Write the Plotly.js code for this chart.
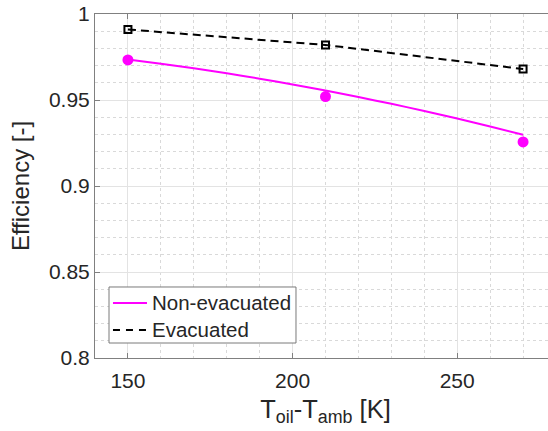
<!DOCTYPE html>
<html>
<head>
<meta charset="utf-8">
<script src="https://cdn.plot.ly/plotly-3.0.1.min.js"></script>
<style>
html, body { margin: 0; padding: 0; overflow: hidden; background: #fff; }
#chart { width: 570px; height: 431px; }
</style>
</head>
<body>
<div id="chart"></div>
<script>
// Measured points
const tempDiff = [150, 210, 270];
const nonEvacuated = [0.9733, 0.952, 0.9256];
const evacuated = [0.991, 0.982, 0.968];
// Fitted curve for non-evacuated collector
const fitTemp = [150, 160, 170, 180, 190, 200, 210, 220, 230, 240, 250, 260, 270];
const fitNonEvacuated = [0.9736, 0.9711, 0.9684, 0.9655, 0.9624, 0.9590, 0.9555, 0.9517, 0.9478, 0.9436, 0.9392, 0.9346, 0.9298];
// Legend labels
const seriesNames = ['Non-evacuated', 'Evacuated'];
// Tick labels
const xTickVals = [150, 200, 250];
const xTickText = ['150', '200', '250'];
const yTickVals = [0.8, 0.85, 0.9, 0.95, 1];
const yTickText = ['0.8', '0.85', '0.9', '0.95', '1'];

const FONT = '"Liberation Sans", Arial, Helvetica, sans-serif';
const TXT = '#262626';
const AXC = '#808080';
const PINK = '#ff00ff';

const traces = [
  { x: fitTemp, y: fitNonEvacuated, mode: 'lines', name: seriesNames[0],
    line: { color: PINK, width: 2, shape: 'spline', smoothing: 0.6 } },
  { x: tempDiff, y: evacuated, mode: 'lines', name: seriesNames[1],
    line: { color: '#000000', width: 2, dash: '8px,5px' } },
  { x: tempDiff, y: nonEvacuated, mode: 'markers', showlegend: false,
    marker: { symbol: 'circle', size: 11, color: PINK } },
  { x: tempDiff, y: evacuated, mode: 'markers', showlegend: false,
    marker: { symbol: 'square-open', size: 7, color: '#000000', line: { width: 2, color: '#000000' } } }
];

// Legend drawn as a box with line samples (paper coordinates of the plot area)
const legendBox = { x0: 0.0304, x1: 0.436, y0: 0.0436, y1: 0.2064 };
const rowY = [0.1599, 0.0814];
const sampleX = [0.039, 0.1128];
const textX = 0.1193;

const shapes = [
  { type: 'rect', xref: 'paper', yref: 'paper', x0: legendBox.x0, x1: legendBox.x1, y0: legendBox.y0, y1: legendBox.y1,
    line: { color: '#7a7a7a', width: 1 }, fillcolor: '#ffffff', layer: 'above' },
  { type: 'line', xref: 'paper', yref: 'paper', x0: sampleX[0], x1: sampleX[1], y0: rowY[0], y1: rowY[0],
    line: { color: PINK, width: 2 }, layer: 'above' },
  { type: 'line', xref: 'paper', yref: 'paper', x0: sampleX[0], x1: sampleX[1], y0: rowY[1], y1: rowY[1],
    line: { color: '#000000', width: 2, dash: '7px,6px' }, layer: 'above' }
];
const annotations = seriesNames.map((name, i) => ({
  xref: 'paper', yref: 'paper', x: textX, y: rowY[i], xanchor: 'left', yanchor: 'middle',
  text: name, showarrow: false, font: { family: FONT, size: 20.5, color: TXT }
}));

const layout = {
  width: 570, height: 431,
  margin: { l: 95, r: 14, t: 14, b: 73 },
  paper_bgcolor: '#ffffff', plot_bgcolor: '#ffffff',
  font: { family: FONT, color: TXT, size: 21 },
  showlegend: false,
  shapes: shapes,
  annotations: annotations,
  xaxis: {
    range: [140, 280], tickvals: xTickVals, ticktext: xTickText,
    ticks: 'inside', ticklen: 5, tickcolor: AXC, tickwidth: 1,
    showline: true, linecolor: AXC, linewidth: 1, mirror: 'ticks',
    showgrid: true, gridcolor: '#e3e3e3', gridwidth: 1,
    minor: { dtick: 10, tick0: 140, showgrid: true, gridcolor: '#d9d9d9', griddash: 'dot', ticks: '' },
    zeroline: false, ticklabelstandoff: 4,
    tickfont: { family: FONT, size: 21, color: TXT },
    title: { text: 'T<sub>oil</sub>-T<sub>amb</sub> [K]', font: { family: FONT, size: 25.5, color: TXT }, standoff: 8 }
  },
  yaxis: {
    range: [0.8, 1], tickvals: yTickVals, ticktext: yTickText,
    ticks: 'inside', ticklen: 5, tickcolor: AXC, tickwidth: 1,
    showline: true, linecolor: AXC, linewidth: 1, mirror: 'ticks',
    showgrid: true, gridcolor: '#e3e3e3', gridwidth: 1,
    minor: { dtick: 0.01, tick0: 0.8, showgrid: true, gridcolor: '#d9d9d9', griddash: 'dot', ticks: '' },
    zeroline: false,
    tickfont: { family: FONT, size: 21, color: TXT },
    title: { text: 'Efficiency [-]', font: { family: FONT, size: 24, color: TXT }, standoff: 12 }
  }
};

Plotly.newPlot('chart', traces, layout, { displayModeBar: false, staticPlot: true });
</script>
</body>
</html>
